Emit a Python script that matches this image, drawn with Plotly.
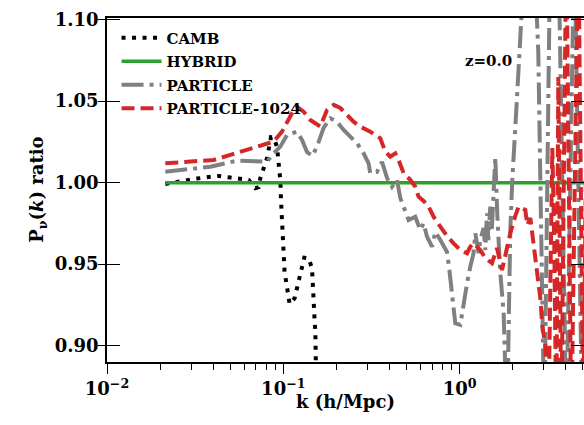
import plotly.graph_objects as go

# --- neutrino power-spectrum ratio vs. k, z = 0 ---

camb_k = [0.02141, 0.02495, 0.02843, 0.03239, 0.03771, 0.04296, 0.04894, 0.05577,
          0.06355, 0.06938, 0.07244, 0.07405, 0.07731, 0.08082, 0.08514, 0.0881,
          0.0921, 0.0949, 0.09616, 0.09704, 0.0983, 0.0996, 0.1013, 0.1017, 0.104,
          0.1063, 0.1086, 0.1159, 0.1196, 0.1227, 0.1265, 0.1315, 0.1391, 0.1455,
          0.1466, 0.148, 0.1486, 0.1499, 0.1505, 0.1519, 0.1525, 0.1533, 0.1539, 0.158]
camb_ratio = [0.9992, 1.0006, 1.0017, 1.0025, 1.0035, 1.0041, 1.0033, 1.0025,
              1.0017, 0.9966, 0.9972, 1.0027, 1.0098, 1.0150, 1.0279, 1.0276,
              1.0220, 1.0098, 1.0017, 0.9894, 0.9771, 0.9638, 0.9515, 0.9450, 0.9387,
              0.9321, 0.9256, 0.9291, 0.9352, 0.9417, 0.9479, 0.9540, 0.9536, 0.9475,
              0.9409, 0.9348, 0.9285, 0.9219, 0.9158, 0.9092, 0.9029, 0.8966, 0.8900, 0.80]

hybrid_k = [0.02141, 10.0]
hybrid_ratio = [1.0, 1.0]

particle_k = [0.02141, 0.03099, 0.03854, 0.05462, 0.07091, 0.08082, 0.0881, 0.09616,
              0.1050, 0.1196, 0.1277, 0.1363, 0.1461, 0.1553, 0.1693, 0.1848, 0.2017,
              0.2198, 0.2399, 0.2618, 0.2854, 0.3046, 0.3114, 0.3400, 0.3629, 0.3876,
              0.4136, 0.4414, 0.4609, 0.4920, 0.5136, 0.5606, 0.5985, 0.6249, 0.6533,
              0.6972, 0.7281, 0.7774, 0.8483, 0.8750, 0.9247, 0.9454, 1.009, 1.054,
              1.102, 1.150, 1.200, 1.228, 1.282, 1.310, 1.368, 1.399, 1.430, 1.455,
              1.493, 1.523, 1.559, 1.594, 1.636, 1.702, 1.777, 1.857, 1.939, 1.990,
              2.097, 2.210, 2.298, 2.518, 2.795, 2.907, 3.023, 3.270, 3.630, 4.030,
              4.473, 4.966, 5.512]
particle_ratio = [1.0067, 1.0088, 1.0098, 1.0135, 1.0135, 1.0129, 1.0180, 1.0221,
                  1.0293, 1.0313, 1.0262, 1.0188, 1.0164, 1.0221, 1.0336, 1.0395, 1.0374,
                  1.0323, 1.0282, 1.0242, 1.0180, 1.0119, 1.0058, 1.0066, 1.0127, 1.0029,
                  0.9975, 1.0017, 0.9906, 0.9833, 0.9771, 0.9791, 0.9710, 0.9751, 0.9669,
                  0.9607, 0.9698, 0.9648, 0.9575, 0.9464, 0.9239, 0.9137, 0.9127, 0.9260,
                  0.9383, 0.9485, 0.9567, 0.9690, 0.9567, 0.9648, 0.9722, 0.9587, 0.9812,
                  0.9648, 0.9853, 0.9710, 0.9894, 1.0158, 0.9802, 0.9446, 0.9201, 0.85,
                  0.9710, 1.0017, 1.0446, 1.0937, 1.15, 1.20, 1.08, 0.98, 0.85, 1.15,
                  1.15, 0.85, 1.15, 0.85, 1.15]

p1024_k = [0.02141, 0.02969, 0.04025, 0.05005, 0.06224, 0.08082, 0.0881, 0.0983,
           0.1120, 0.1196, 0.1303, 0.1422, 0.1621, 0.1770, 0.1929, 0.2105, 0.2298,
           0.2504, 0.2733, 0.3114, 0.3549, 0.3790, 0.4045, 0.4318, 0.4508, 0.4813,
           0.5253, 0.5606, 0.5853, 0.6249, 0.6671, 0.7119, 0.7774, 0.8483, 0.9247,
           1.009, 1.102, 1.150, 1.200, 1.310, 1.399, 1.527, 1.630, 1.702, 1.740,
           1.857, 1.939, 2.070, 2.161, 2.359, 2.421, 2.518, 2.629, 2.748, 2.869,
           2.945, 3.062, 3.185, 3.270, 3.357, 3.445, 3.536, 3.630, 3.775, 4.030,
           4.302, 4.714, 5.030, 5.370]
p1024_ratio = [1.0119, 1.0127, 1.0139, 1.0170, 1.0201, 1.0237, 1.0252, 1.0313,
               1.0426, 1.0466, 1.0436, 1.0385, 1.0344, 1.0446, 1.0477, 1.0458, 1.0415,
               1.0374, 1.0344, 1.0313, 1.0272, 1.0190, 1.0160, 1.0180, 1.0139, 1.0058,
               1.0017, 0.9975, 0.9914, 0.9888, 0.9853, 0.9791, 0.9730, 0.9673, 0.9628,
               0.9587, 0.9567, 0.9607, 0.9628, 0.9587, 0.9538, 0.9506, 0.9599, 0.9513,
               0.9464, 0.9599, 0.9690, 0.9796, 0.9853, 0.9833, 0.9740, 0.9783, 0.9618,
               0.9454, 0.9293, 0.9121, 0.9004, 0.85, 0.96, 1.0213, 0.96, 0.85, 1.0648,
               0.85, 1.15, 0.85, 1.15, 0.85, 1.15]

x_ticks = [0.01, 0.1, 1.0]
x_tick_text = ["10<sup>−2</sup>", "10<sup>−1</sup>", "10<sup>0</sup>"]
x_minor_ticks = [m * d for d in (0.01, 0.1, 1.0) for m in range(2, 10)]
y_ticks = [0.90, 0.95, 1.00, 1.05, 1.10]
y_range = [0.8900, 1.1010]
x_log_range = [-2.0, 0.7056]

SERIF = "DejaVu Serif"
BLACK = "#000000"

fig = go.Figure()
fig.add_trace(go.Scatter(x=camb_k, y=camb_ratio, mode="lines", name="CAMB",
                         legendgroup="a",
                         line=dict(color="black", width=4, dash="4px,6.5px")))
fig.add_trace(go.Scatter(x=hybrid_k, y=hybrid_ratio, mode="lines", name="HYBRID",
                         legendgroup="b",
                         line=dict(color="#2ca02c", width=3.5)))
fig.add_trace(go.Scatter(x=particle_k, y=particle_ratio, mode="lines", name="PARTICLE",
                         legendgroup="c",
                         line=dict(color="#808080", width=4, dash="22px,6px,4px,6px")))
fig.add_trace(go.Scatter(x=p1024_k, y=p1024_ratio, mode="lines", name="PARTICLE-1024",
                         legendgroup="d",
                         line=dict(color="#d62728", width=4, dash="13px,6px")))
# empty helpers carrying the extra tick axes
fig.add_trace(go.Scatter(x=[], y=[], yaxis="y2", showlegend=False, hoverinfo="skip"))
fig.add_trace(go.Scatter(x=[], y=[], yaxis="y3", showlegend=False, hoverinfo="skip"))

tick_font = dict(family=SERIF, size=18, color=BLACK, weight="bold")
title_font = dict(family=SERIF, size=18, color=BLACK, weight="bold")

fig.update_layout(
    width=584, height=425,
    margin=dict(l=107, r=0, t=18, b=63),
    paper_bgcolor="white", plot_bgcolor="white",
    showlegend=True,
    legend=dict(x=0.02, y=0.99, xanchor="left", yanchor="top",
                itemwidth=40, tracegroupgap=1,
                bgcolor="rgba(0,0,0,0)", borderwidth=0,
                font=dict(family=SERIF, size=15, color=BLACK, weight="bold")),
    xaxis=dict(type="log", range=x_log_range, tickmode="array",
               tickvals=x_ticks, ticktext=x_tick_text,
               showgrid=False, zeroline=False,
               showline=True, linecolor=BLACK, linewidth=1.6, mirror=True,
               ticks="outside", ticklen=10, tickwidth=1.4, tickcolor=BLACK,
               minor=dict(ticks="outside", ticklen=6, tickwidth=1.2, tickcolor=BLACK,
                          tickmode="array", tickvals=x_minor_ticks, showgrid=False),
               tickfont=tick_font),
    yaxis=dict(range=y_range, tickvals=y_ticks, ticktext=[f"{v:.2f}" for v in y_ticks],
               showgrid=False, zeroline=False,
               showline=True, linecolor=BLACK, linewidth=1.6, mirror=False,
               ticks="outside", ticklen=7, tickwidth=1.4, tickcolor=BLACK,
               ticklabelstandoff=-4,
               tickfont=tick_font),
    yaxis2=dict(overlaying="y", side="right", range=y_range, tickvals=y_ticks,
                showticklabels=False, showgrid=False, zeroline=False, showline=False,
                ticks="inside", ticklen=13, tickwidth=1.4, tickcolor=BLACK),
    yaxis3=dict(overlaying="y", side="left", range=y_range, tickvals=y_ticks,
                showticklabels=False, showgrid=False, zeroline=False, showline=False,
                ticks="inside", ticklen=13, tickwidth=1.4, tickcolor=BLACK),
    annotations=[
        dict(text="z=0.0", x=0.799, y=0.875, xref="paper", yref="paper",
             showarrow=False, xanchor="center", yanchor="middle",
             font=dict(family=SERIF, size=15, color=BLACK, weight="bold")),
        # axis titles
        dict(text="k (h/Mpc)", x=0.5, y=-0.116, xref="paper", yref="paper",
             showarrow=False, xanchor="center", yanchor="middle", font=title_font),
        dict(text="P<sub>ν</sub>(<i>k</i>) ratio", x=-0.145, y=0.5,
             xref="paper", yref="paper", textangle=-90,
             showarrow=False, xanchor="center", yanchor="middle", font=title_font),
    ],
)

fig.write_html("out.html")
